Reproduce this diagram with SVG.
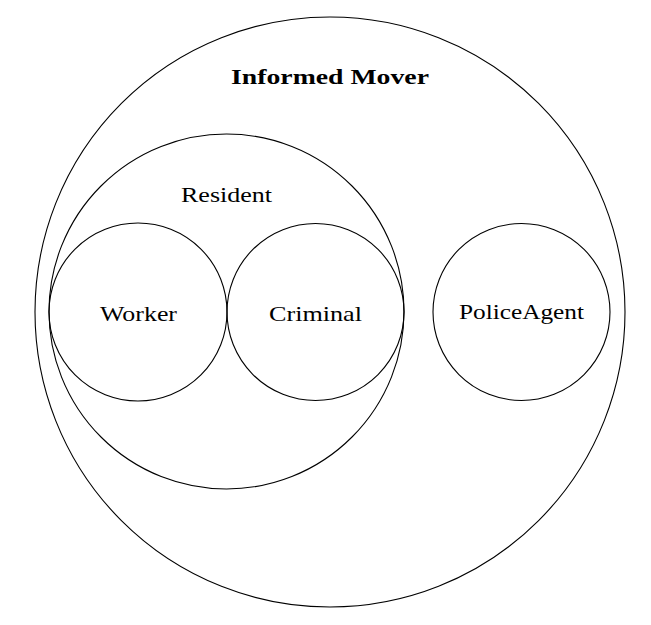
<svg xmlns="http://www.w3.org/2000/svg" width="651" height="625" viewBox="0 0 651 625">
<style>
circle{fill:none;stroke:#000;stroke-width:1.1}
text{font-family:"Liberation Serif","DejaVu Serif",serif;font-size:22px;fill:#000;text-anchor:middle}
.b{font-weight:bold}
</style>
<rect width="651" height="625" fill="#fff"/>
<g id="informed-mover"><circle cx="330" cy="312" r="295"/><text class="b" x="330" y="84" textLength="198" lengthAdjust="spacingAndGlyphs">Informed Mover</text></g>
<g id="resident"><circle cx="226.5" cy="311.5" r="177.5"/><text x="226.5" y="202" textLength="91" lengthAdjust="spacingAndGlyphs">Resident</text></g>
<g id="worker"><circle cx="138" cy="312" r="89"/><text x="138.5" y="321" textLength="77" lengthAdjust="spacingAndGlyphs">Worker</text></g>
<g id="criminal"><circle cx="315.5" cy="312" r="88.5"/><text x="315.5" y="321" textLength="93" lengthAdjust="spacingAndGlyphs">Criminal</text></g>
<g id="police-agent"><circle cx="521.5" cy="312" r="88.5"/><text x="521.5" y="319" textLength="125" lengthAdjust="spacingAndGlyphs">PoliceAgent</text></g>
<g id="connectors"></g>
</svg>
